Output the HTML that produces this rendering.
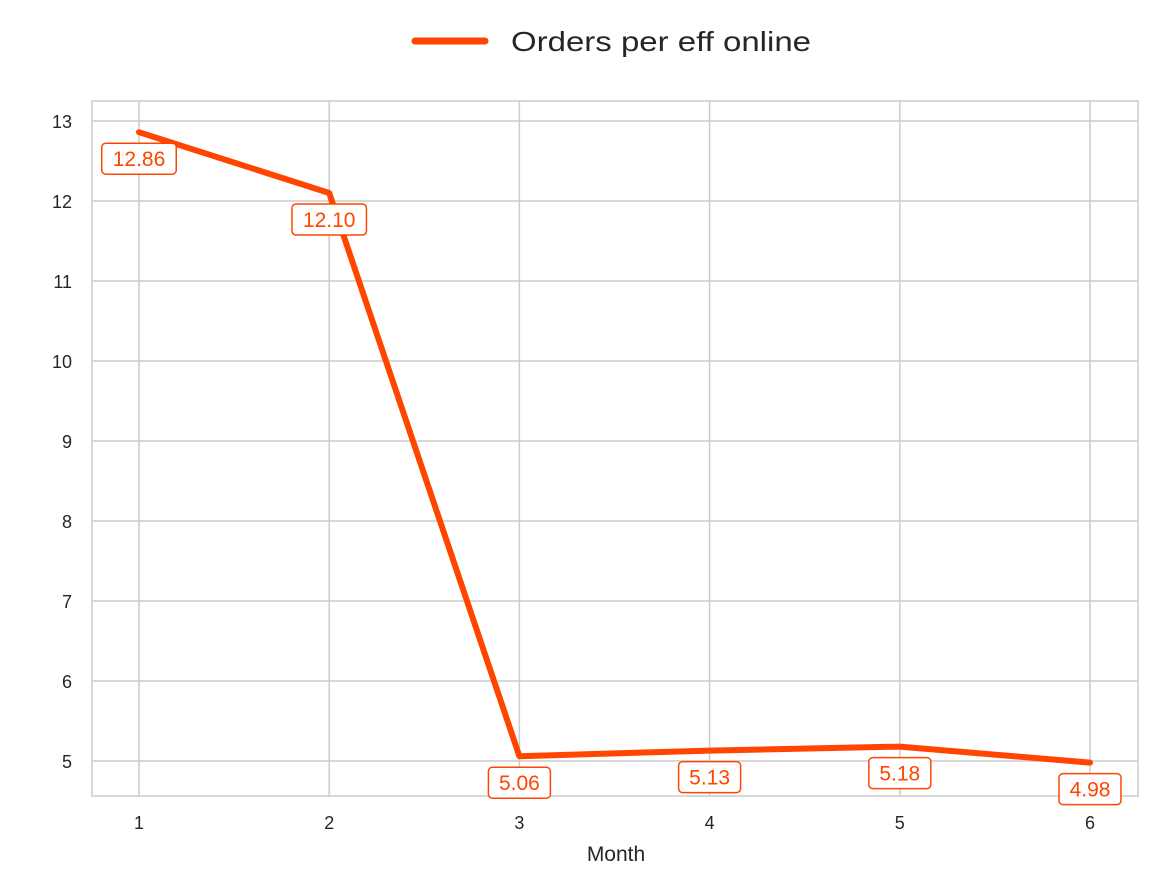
<!DOCTYPE html>
<html><head><meta charset="utf-8"><style>
body{margin:0;background:#fff;}
svg text{font-family:"Liberation Sans",Arial,sans-serif;}
</style></head><body>
<svg id="chart" width="1152" height="881" viewBox="0 0 1152 881">
<g id="grid"></g>
<rect x="92" y="101" width="1046" height="695" fill="none" stroke="#cccccc" stroke-width="1.5"/>
<g id="ticks"></g>
<g id="series"></g>
<g id="labels"></g>
<g>
<line x1="415" y1="41" x2="485" y2="41" stroke="#FF4500" stroke-width="7" stroke-linecap="round"/>
<text x="511" y="51" font-size="28" textLength="300" lengthAdjust="spacingAndGlyphs" fill="#262626">Orders per eff online</text>
</g>
<text x="616" y="861" font-size="21" fill="#262626" text-anchor="middle">Month</text>
</svg>
<script>
const months=[1,2,3,4,5,6];
const values=[12.86,12.10,5.06,5.13,5.18,4.98];
const yTicks=[5,6,7,8,9,10,11,12,13];
const NS="http://www.w3.org/2000/svg";
const L=92,R=1138,T=101,B=796;
function xs(m){return 139+(m-1)*(1090-139)/5;}
function ys(v){return 761-(v-5)*80;}
function mk(tag,attrs,parent){const e=document.createElementNS(NS,tag);for(const k in attrs)e.setAttribute(k,attrs[k]);parent.appendChild(e);return e;}
const grid=document.getElementById('grid'),ticks=document.getElementById('ticks'),series=document.getElementById('series'),labels=document.getElementById('labels');
months.forEach(m=>{
 const g=mk('line',{x1:xs(m),x2:xs(m),y1:T,y2:B,stroke:'#cccccc','stroke-width':1.5},grid);
 
 
 const t=mk('text',{x:xs(m),y:B+33,'font-size':18,fill:'#262626','text-anchor':'middle'},ticks);
 t.textContent=m;
 
 
});
yTicks.forEach(v=>{
 const g=mk('line',{x1:L,x2:R,y1:ys(v),y2:ys(v),stroke:'#cccccc','stroke-width':1.5},grid);
 
 
 const t=mk('text',{x:72,y:ys(v)+7,'font-size':18,fill:'#262626','text-anchor':'end'},ticks);
 t.textContent=v;
 
 
});
const pl=mk('polyline',{points:months.map((m,i)=>xs(m)+','+ys(values[i])).join(' '),fill:'none',stroke:'#FF4500','stroke-width':6,'stroke-linejoin':'round','stroke-linecap':'round'},series);


months.forEach((m,i)=>{
 const txt=values[i].toFixed(2);
 const w=txt.length*12.5+12,cx=xs(m),cy=ys(values[i])+26;
 const r=mk('rect',{x:cx-w/2,y:cy-15,width:w,height:31,rx:4,fill:'#fff',stroke:'#FF4500','stroke-width':1.5},labels);
 
 
 const t=mk('text',{x:cx,y:cy+8,'font-size':21,fill:'#FF4500','text-anchor':'middle'},labels);
 t.textContent=txt;
 
 
});
</script>
</body></html>
